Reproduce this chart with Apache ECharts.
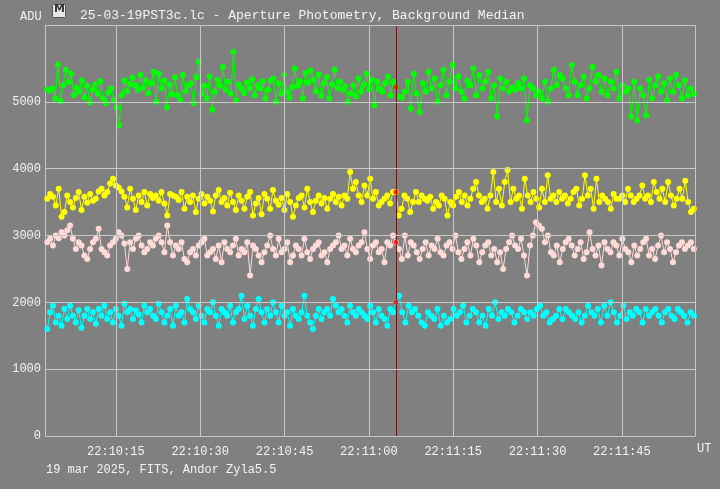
<!DOCTYPE html>
<html><head><meta charset="utf-8">
<script src="https://cdn.jsdelivr.net/npm/echarts@6/dist/echarts.min.js"></script>
<style>html,body{margin:0;padding:0;background:#808080}#c{width:720px;height:489px}</style>
</head><body><div id="c"></div>
<script>
const titleText = "25-03-19PST3c.lc - Aperture Photometry, Background Median";
const footText = "19 mar 2025, FITS, Andor Zyla5.5";
const xTicks = [15, 30, 45, 60, 75, 90, 105]; // seconds after 22:10:00
const yTicks = [0, 1000, 2000, 3000, 4000, 5000];
const tStart = 2.8, tCursor = 64.8, tEnd = 117.8, xMin = 2.4, xMax = 118.0;
const seriesNames = ["green", "yellow", "pink", "cyan"];
const cursorVals = [5220, 3650, 2900, 2000];

const greenL = [5180,5170,5200,5050,5560,5010,5250,5480,5300,5420,5100,5210,5150,5320,5060,5240,4990,5180,5260,5120,5310,5050,4980,5140,5200,5020,4920,4650,5100,5320,5160,5270,5360,5250,5180,5400,5210,5320,5130,5280,5450,5000,5420,5200,5320,4920,5260,5110,5370,5100,5030,5400,5160,5250,5280,4980,5370,5600,5120,5240,5050,5380,4880,5150,5330,5240,5520,5180,5300,5120,5750,5020,5260,5200,5130,5290,5200,5340,5100,5250,5200,5310,5050,5180,5320,5350,5000,5280,5120,5400,5150,5060,5220,5500,5240,5310,5050,5430,5290,5470,5330,5160,5410,5090,5280,5370,5050,5260,5480,5210,5300,5180,5230,5000,5120,5250,5080,5350,5150,5260,5420,5190,5330,4950,5300,5200,5150,5280,5380,5100,5300,5220];
const greenR = [5080,5060,5150,5300,4900,5420,5120,4850,5280,5150,5450,5200,5350,5000,5250,5480,5100,5300,5550,5200,5380,5150,5050,5320,5250,5500,5100,5400,5200,5300,5450,5050,5250,4780,5350,5200,5300,5150,5220,5180,5280,5200,5350,4720,5250,5200,5100,5150,5050,5300,5000,5200,5480,5250,5400,5350,5200,5100,5550,5300,5100,5250,5380,5050,5200,5520,5300,5400,5150,5350,5100,5300,5200,5450,5050,5250,5150,5200,4780,5300,4720,5200,5100,4800,5330,5050,5250,5380,5150,5280,5020,5350,5150,5400,5250,5050,5320,5100,5200,5120];
const yellowL = [3550,3620,3580,3450,3700,3280,3350,3600,3500,3420,3560,3650,3380,3580,3490,3620,3520,3550,3660,3700,3600,3650,3780,3850,3750,3720,3660,3580,3420,3700,3550,3380,3600,3500,3650,3450,3620,3560,3600,3520,3650,3480,3300,3620,3600,3580,3530,3650,3400,3580,3500,3600,3350,3550,3620,3480,3580,3520,3360,3600,3680,3500,3560,3450,3640,3500,3380,3600,3520,3400,3580,3650,3300,3480,3560,3320,3620,3550,3400,3680,3520,3460,3560,3380,3620,3500,3280,3450,3560,3600,3420,3700,3500,3350,3520,3600,3480,3560,3400,3550,3620,3500,3580,3450,3600,3550,3950,3700,3800,3600,3500,3750,3600,3850,3550,3650,3450,3500,3550,3600,3480,3650,3650];
const yellowR = [3300,3400,3600,3550,3350,3500,3650,3500,3600,3550,3520,3580,3400,3500,3450,3600,3550,3300,3500,3450,3580,3650,3500,3600,3450,3550,3700,3800,3600,3500,3550,3400,3600,3950,3500,3700,3450,3800,3980,3500,3700,3550,3600,3400,3850,3600,3500,3650,3550,3420,3700,3500,3900,3550,3600,3500,3650,3550,3600,3480,3550,3650,3700,3450,3550,3900,3600,3700,3400,3850,3500,3600,3550,3500,3400,3620,3550,3550,3600,3500,3700,3600,3500,3550,3600,3750,3550,3600,3500,3800,3650,3550,3700,3500,3800,3600,3450,3550,3700,3550,3820,3500,3350,3400];
const pinkL = [2900,2950,2850,3000,2960,3050,3000,3080,3150,2950,2800,2900,2850,2700,2650,2800,2900,2950,3100,2800,2750,2700,2850,2900,2950,3050,3000,2880,2500,2900,2800,2950,3000,2850,2750,2800,2900,2850,2950,3000,2900,2750,3150,2900,2700,2850,2800,2900,2650,2600,2750,2800,2700,2850,2900,2950,2700,2750,2800,2650,2850,2600,2900,2800,2750,2850,2950,2700,2800,2750,2900,2400,2850,2800,2700,2600,2750,2850,3000,2800,2700,2950,2750,2800,2900,2600,2700,2850,2800,2700,2950,2750,2650,2800,2850,2900,2700,2750,2600,2800,2850,2900,3000,2800,2850,2700,2950,2800,2750,2850,2900,3050,2800,2650,2850,2900,2750,2800,2600,2900,2850,3000,2900];
const pinkR = [2800,2650,3000,2700,2900,2850,2750,2650,2800,2900,2700,2850,2800,2950,2750,2700,2850,2900,2800,3000,2750,2650,2800,2900,2700,2950,2850,2600,2750,2850,2900,2700,2800,2600,2750,2500,2800,2900,3000,2850,2800,2950,2700,2400,2850,3000,3200,3150,3100,2900,3000,2750,2700,2850,2600,2800,2900,2950,2850,2700,2800,2900,2650,2750,3050,2800,2700,2850,2550,2900,2800,2750,2900,2850,2700,2950,2800,2750,2600,2850,2700,2800,2900,2950,2700,2800,2650,2850,3000,2750,2900,2800,2600,2750,2850,2900,2800,2850,2900,2800];
const cyanL = [1600,1850,1950,1700,1800,1650,1900,1750,1950,1800,1700,1880,1620,1800,1900,1750,1850,1680,1900,1800,1950,1750,1850,1700,1900,1800,1650,1980,1850,1900,1750,1880,1820,1700,1950,1850,1900,1800,1750,1980,1850,1700,1800,1900,1650,1950,1800,1850,1700,2050,1900,1850,1750,1950,1800,1700,1900,1850,2000,1800,1650,1900,1850,1800,1950,1700,1850,1900,2100,1750,1950,1800,1650,1900,2050,1850,1700,1900,1800,2000,1850,1700,1950,1800,1850,1650,1900,1800,1750,1850,2100,1800,1700,1600,1800,1900,1750,1850,1900,1800,2050,1950,1850,1900,1800,1700,1950,1850,1800,1900,1850,1800,1750,1950,1850,1700,1900,1800,1750,1650,1900,1850,2000];
const cyanR = [2100,1850,1700,1950,1850,1900,1800,1700,1650,1850,1800,1750,1900,1650,1800,1700,1750,1900,1800,1850,1950,1700,1800,1900,1850,1700,1800,1650,1900,1800,2000,1750,1850,1800,1900,1850,1700,1800,1900,1850,1750,1850,1800,1900,1950,1800,1850,1700,1750,1800,1900,1750,1900,1850,1800,1750,1850,1700,1800,1950,1850,1800,1900,1700,1950,1800,2000,1850,1700,1800,1950,1750,1850,1800,1900,1850,1700,1900,1800,1850,1900,1800,1700,1850,1900,1800,1750,1900,1850,1800,1700,1850,1800];

const colors = ["#00ff00", "#ffff00", "#ffdad6", "#00ffff"];
const lefts = [greenL, yellowL, pinkL, cyanL];
const rights = [greenR, yellowR, pinkR, cyanR];

function build(L, R) {
  const out = [];
  const sL = (tCursor - tStart) / (L.length - 1);
  L.forEach((v, i) => out.push([tStart + i * sL, v]));
  const sR = (tEnd - tCursor) / R.length;
  R.forEach((v, i) => out.push([tCursor + (i + 1) * sR, v]));
  return out;
}
function fmt(s) {
  const m = 10 + Math.floor(s / 60), sec = Math.round(s % 60);
  return "22:" + m + ":" + String(sec).padStart(2, "0");
}
const font = "Liberation Mono";
const grid = "#c8c8c8";
const series = seriesNames.map((n, k) => ({
  name: n, type: "line", data: build(lefts[k], rights[k]),
  symbol: "circle", symbolSize: 6, showSymbol: true,
  lineStyle: { color: colors[k], width: 1 }, itemStyle: { color: colors[k] },
  animation: false, z: 3
}));
series.push({
  type: "scatter", data: cursorVals.map(v => [tCursor, v]), symbolSize: 5,
  itemStyle: { color: "#ff0000" }, z: 5, animation: false,
  markLine: { symbol: "none", silent: true, label: { show: false },
    lineStyle: { color: "#6a1515", width: 1, type: "solid" }, data: [{ xAxis: tCursor }] }
});
series.push({
  type: "line", data: [], animation: false,
  markLine: { symbol: "none", silent: true, label: { show: false },
    lineStyle: { color: grid, width: 1, type: "solid" },
    data: xTicks.map(t => ({ xAxis: t })).concat(yTicks.map(v => ({ yAxis: v }))).concat([{ yAxis: 6150 }, { xAxis: xMax }]) }
});
const chart = echarts.init(document.getElementById("c"));
chart.setOption({
  backgroundColor: "#808080",
  animation: false,
  title: { text: titleText, left: 75, top: 4, textStyle: { color: "#f4f4f4", fontFamily: font, fontSize: 13, fontWeight: "normal" } },
  graphic: [
    { type: "rect", left: 52, top: 4, shape: { width: 13, height: 13, r: 1 }, style: { fill: "#e8e8e8", stroke: "#555" } },
    { type: "text", left: 54, top: 4, style: { text: "М", fill: "#333", font: "bold 11px DejaVu Sans" } },
    { type: "text", left: 46, top: 464, style: { text: footText, fill: "#f4f4f4", font: "12px " + font } },
    { type: "text", left: 697, top: 443, style: { text: "UT", fill: "#f4f4f4", font: "12px " + font } },
    { type: "text", left: 20, top: 11, style: { text: "ADU", fill: "#f4f4f4", font: "12px " + font } }
  ],
  grid: { left: 45, right: 25, top: 25, bottom: 53 },
  xAxis: {
    type: "value", min: xMin, max: xMax,
    axisLine: { show: true, lineStyle: { color: grid } }, axisTick: { show: false },
    splitLine: { show: false },
    axisLabel: { customValues: xTicks, formatter: v => fmt(v), color: "#f4f4f4", fontFamily: font, fontSize: 12, margin: 10 }
  },
  yAxis: {
    type: "value", min: 0, max: 6150,
    axisLine: { show: true, lineStyle: { color: grid } }, axisTick: { show: false },
    splitLine: { show: false },
    axisLabel: { customValues: yTicks, color: "#f4f4f4", fontFamily: font, fontSize: 12, margin: 4,
      formatter: v => String(v) }
  },
  series: series
});
</script></body></html>
